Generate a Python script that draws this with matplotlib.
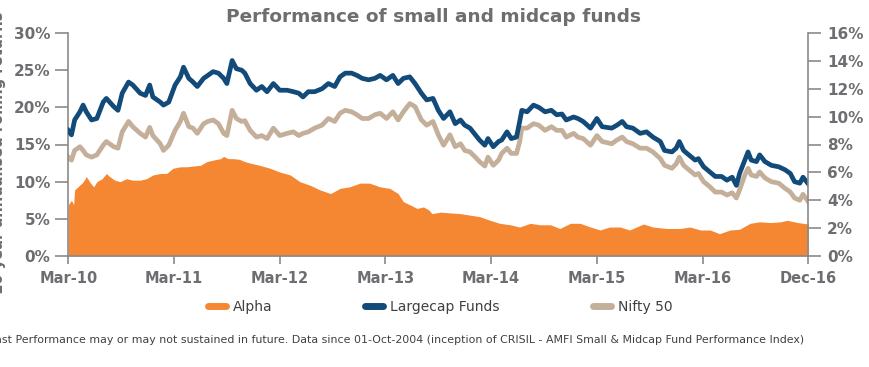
import matplotlib
matplotlib.use("Agg")
import matplotlib.pyplot as plt
from matplotlib.lines import Line2D

# ---------------- data (x in tick units: 0 = Mar-10 ... 7 = Dec-16) ----------------
tick_labels = ["Mar-10", "Mar-11", "Mar-12", "Mar-13", "Mar-14", "Mar-15", "Mar-16", "Dec-16"]
left_ticks = [0, 5, 10, 15, 20, 25, 30]
right_ticks = [0, 2, 4, 6, 8, 10, 12, 14, 16]

line_x = [0.00, 0.03, 0.06, 0.11, 0.14, 0.17, 0.22, 0.27, 0.33, 0.36, 0.43, 0.47, 0.51, 0.57, 0.61,
          0.68, 0.73, 0.77, 0.80, 0.87, 0.90, 0.95, 1.01, 1.06, 1.09, 1.14, 1.18, 1.22, 1.28, 1.32,
          1.37, 1.42, 1.47, 1.50, 1.55, 1.59, 1.64, 1.67, 1.72, 1.78, 1.83, 1.88, 1.94, 2.00, 2.07,
          2.13, 2.18, 2.22, 2.27, 2.33, 2.40, 2.46, 2.52, 2.57, 2.62, 2.68, 2.73, 2.78, 2.84, 2.90,
          2.95, 3.01, 3.07, 3.12, 3.17, 3.23, 3.28, 3.34, 3.39, 3.45, 3.50, 3.55, 3.61, 3.66, 3.71,
          3.75, 3.80, 3.85, 3.89, 3.94, 3.97, 4.02, 4.07, 4.10, 4.15, 4.19, 4.24, 4.27, 4.29, 4.34,
          4.40, 4.45, 4.51, 4.57, 4.62, 4.67, 4.71, 4.78, 4.82, 4.87, 4.94, 5.00, 5.05, 5.14, 5.19,
          5.24, 5.28, 5.34, 5.41, 5.47, 5.53, 5.60, 5.64, 5.71, 5.75, 5.78, 5.82, 5.87, 5.93, 5.96,
          6.01, 6.07, 6.12, 6.18, 6.23, 6.28, 6.32, 6.35, 6.40, 6.43, 6.46, 6.51, 6.54, 6.59, 6.65,
          6.72, 6.78, 6.83, 6.87, 6.92, 6.95, 7.00]

largecap = [16.9, 16.3, 18.3, 19.4, 20.3, 19.4, 18.3, 18.5, 20.7, 21.2, 20.1, 19.6, 21.9, 23.4, 23.0,
            21.9, 21.6, 23.0, 21.4, 20.7, 20.3, 20.7, 23.0, 24.1, 25.4, 23.9, 23.4, 22.8, 23.9, 24.3,
            24.8, 24.6, 23.9, 23.2, 26.3, 25.2, 25.0, 24.6, 23.2, 22.3, 22.8, 22.1, 23.2, 22.3, 22.3,
            22.1, 21.9, 21.4, 22.1, 22.1, 22.5, 23.2, 22.8, 24.1, 24.6, 24.6, 24.3, 23.9, 23.7, 23.9,
            24.3, 23.7, 24.3, 23.2, 23.9, 24.1, 23.2, 21.9, 21.0, 21.2, 19.6, 18.5, 19.4, 17.8, 18.3,
            17.6, 17.2, 16.3, 15.6, 14.9, 15.8, 14.7, 15.4, 15.6, 16.7, 15.8, 16.0, 18.1, 19.6, 19.4,
            20.3, 20.0, 19.4, 19.6, 19.0, 19.1, 18.3, 18.7, 18.5, 18.1, 17.2, 18.5, 17.4, 17.2, 17.6,
            18.1, 17.4, 17.2, 16.5, 16.7, 16.0, 15.4, 14.2, 14.0, 14.5, 15.4, 14.2, 13.6, 12.9, 13.1,
            12.0, 11.3, 10.7, 10.7, 10.2, 10.6, 9.5, 11.1, 12.9, 14.0, 12.9, 12.7, 13.6, 12.7, 12.2,
            12.0, 11.6, 11.1, 10.0, 9.8, 10.6, 9.7]

nifty = [13.3, 12.9, 14.2, 14.7, 14.2, 13.6, 13.3, 13.6, 14.9, 15.4, 14.7, 14.5, 16.7, 18.1, 17.4,
         16.5, 16.0, 17.3, 16.2, 15.1, 14.2, 14.9, 16.9, 18.1, 19.2, 17.4, 17.2, 16.5, 17.8, 18.1,
         18.3, 17.8, 16.5, 16.2, 19.6, 18.5, 18.1, 18.2, 16.9, 16.0, 16.2, 15.8, 17.2, 16.2, 16.5,
         16.7, 16.2, 16.5, 16.7, 17.2, 17.6, 18.5, 18.1, 19.2, 19.6, 19.4, 19.0, 18.5, 18.5, 19.0,
         19.2, 18.5, 19.4, 18.3, 19.4, 20.5, 20.1, 18.3, 17.6, 18.1, 16.3, 14.9, 16.3, 14.7, 15.1,
         14.2, 14.0, 13.3, 12.7, 12.1, 13.3, 12.2, 12.9, 13.8, 14.5, 13.8, 13.8, 15.4, 17.2, 17.2,
         17.8, 17.6, 16.9, 17.4, 16.9, 16.9, 16.0, 16.5, 16.0, 15.8, 14.9, 16.2, 15.4, 15.1, 15.6,
         16.0, 15.4, 15.1, 14.5, 14.5, 14.0, 13.1, 12.2, 11.8, 12.4, 13.3, 12.2, 11.6, 10.9, 11.1,
         10.0, 9.3, 8.6, 8.6, 8.2, 8.5, 7.8, 8.9, 10.9, 11.8, 10.9, 10.7, 11.3, 10.5, 10.0,
         9.8, 9.1, 8.6, 7.8, 7.5, 8.3, 7.3]

alpha_x = [0.00, 0.03, 0.05, 0.06, 0.09, 0.13, 0.16, 0.17, 0.21, 0.24, 0.27, 0.32, 0.36, 0.39, 0.44,
           0.49, 0.55, 0.61, 0.68, 0.74, 0.80, 0.87, 0.93, 0.99, 1.06, 1.12, 1.18, 1.25, 1.31, 1.37,
           1.44, 1.47, 1.51, 1.56, 1.62, 1.67, 1.72, 1.81, 1.91, 2.00, 2.10, 2.19, 2.29, 2.38, 2.48,
           2.52, 2.57, 2.66, 2.76, 2.85, 2.95, 3.04, 3.12, 3.17, 3.23, 3.30, 3.36, 3.41, 3.44, 3.52,
           3.61, 3.71, 3.80, 3.89, 3.99, 4.08, 4.18, 4.27, 4.37, 4.46, 4.56, 4.65, 4.75, 4.84, 4.94,
           5.03, 5.12, 5.22, 5.31, 5.44, 5.53, 5.66, 5.79, 5.88, 5.98, 6.07, 6.16, 6.26, 6.35, 6.45,
           6.54, 6.64, 6.74, 6.80, 6.90, 7.00]
alpha = [6.9, 7.5, 6.9, 8.9, 9.3, 9.8, 10.4, 10.7, 9.8, 9.3, 10.0, 10.4, 11.1, 10.7, 10.2,
         10.0, 10.4, 10.2, 10.2, 10.4, 10.9, 11.1, 11.1, 11.8, 12.0, 12.0, 12.1, 12.2, 12.7, 12.9,
         13.1, 13.4, 13.1, 13.1, 13.0, 12.7, 12.5, 12.2, 11.8, 11.3, 10.9, 10.0, 9.5, 8.9, 8.4,
         8.7, 9.1, 9.3, 9.8, 9.8, 9.3, 9.1, 8.4, 7.3, 6.9, 6.4, 6.6, 6.2, 5.7, 5.9,
         5.8, 5.7, 5.5, 5.3, 4.8, 4.4, 4.2, 3.9, 4.4, 4.2, 4.2, 3.7, 4.4, 4.4, 3.9,
         3.5, 3.9, 3.9, 3.5, 4.3, 3.9, 3.7, 3.7, 3.9, 3.5, 3.5, 3.0, 3.5, 3.6, 4.4,
         4.6, 4.5, 4.6, 4.8, 4.5, 4.3]

# ---------------- styling ----------------
ORANGE = "#F58733"
BLUE = "#124A7A"
TAN = "#C4AF9A"
GREY_TXT = "#6D6E71"
AXIS_GREY = "#8A8A8A"

plt.rcParams["font.family"] = ["DejaVu Sans"]

fig = plt.figure(figsize=(8.7, 3.67), dpi=100)
W, H = 870, 367
ax = fig.add_axes([68.3 / W, (H - 256) / H, (808.3 - 68.3) / W, (256 - 33) / H])

ax.fill_between(alpha_x, 0, alpha, color=ORANGE, linewidth=0, zorder=1)
ax.plot(line_x, nifty, color=TAN, lw=3.4, solid_joinstyle="round", zorder=2)
ax.plot(line_x, largecap, color=BLUE, lw=3.4, solid_joinstyle="round", zorder=3)

ax.set_xlim(0, 7)
ax.set_ylim(0, 30)
ax.set_xticks(range(len(tick_labels)))
ax.set_xticklabels(tick_labels)
ax.set_yticks(left_ticks)
ax.set_yticklabels([f"{v}%" for v in left_ticks])

ax2 = ax.twinx()
ax2.set_ylim(0, 16)
ax2.set_yticks(right_ticks)
ax2.set_yticklabels([f"{v}%" for v in right_ticks])

for a in (ax, ax2):
    for s in a.spines.values():
        s.set_color(AXIS_GREY)
        s.set_linewidth(1.2)
    a.spines["top"].set_visible(False)
ax.spines["right"].set_visible(False)
ax2.spines["left"].set_visible(False)
ax2.spines["bottom"].set_visible(False)

ax.tick_params(axis="y", length=9.5, width=1.2, color=AXIS_GREY, pad=3.5,
               labelsize=11, labelcolor=GREY_TXT)
ax.tick_params(axis="x", length=6, width=1.2, color=AXIS_GREY, pad=5,
               labelsize=10.5, labelcolor=GREY_TXT)
ax2.tick_params(axis="y", length=9.5, width=1.2, color=AXIS_GREY, pad=4,
                labelsize=11, labelcolor=GREY_TXT)
for lab in ax.get_xticklabels() + ax.get_yticklabels() + ax2.get_yticklabels():
    lab.set_fontweight("bold")

fig.text(434 / W, 1 - 17 / H, "Performance of small and midcap funds", ha="center", va="center",
         fontsize=13.3, fontweight="bold", color=GREY_TXT)

fig.text(-1 / W, 1 - 153 / H, "10 year annualised rolling returns", rotation=90, ha="center",
         va="center", fontsize=10.5, fontweight="bold", color=GREY_TXT)

handles = [Line2D([], [], color=ORANGE, lw=5, solid_capstyle="round"),
           Line2D([], [], color=BLUE, lw=5, solid_capstyle="round"),
           Line2D([], [], color=TAN, lw=5, solid_capstyle="round")]
fig.legend(handles, ["Alpha", "Largecap Funds", "Nifty 50"], loc="center",
           bbox_to_anchor=(440 / W, 1 - 307 / H), ncol=3, frameon=False,
           fontsize=10, handlelength=1.3, handletextpad=0.5, columnspacing=6.7,
           labelcolor="#404040")

fig.text(804 / W, 1 - 340 / H,
         "Past Performance may or may not sustained in future. Data since 01-Oct-2004 "
         "(inception of CRISIL - AMFI Small & Midcap Fund Performance Index)",
         ha="right", va="center", fontsize=7.95, color="#404040")

fig.savefig("out.png", dpi=100)
